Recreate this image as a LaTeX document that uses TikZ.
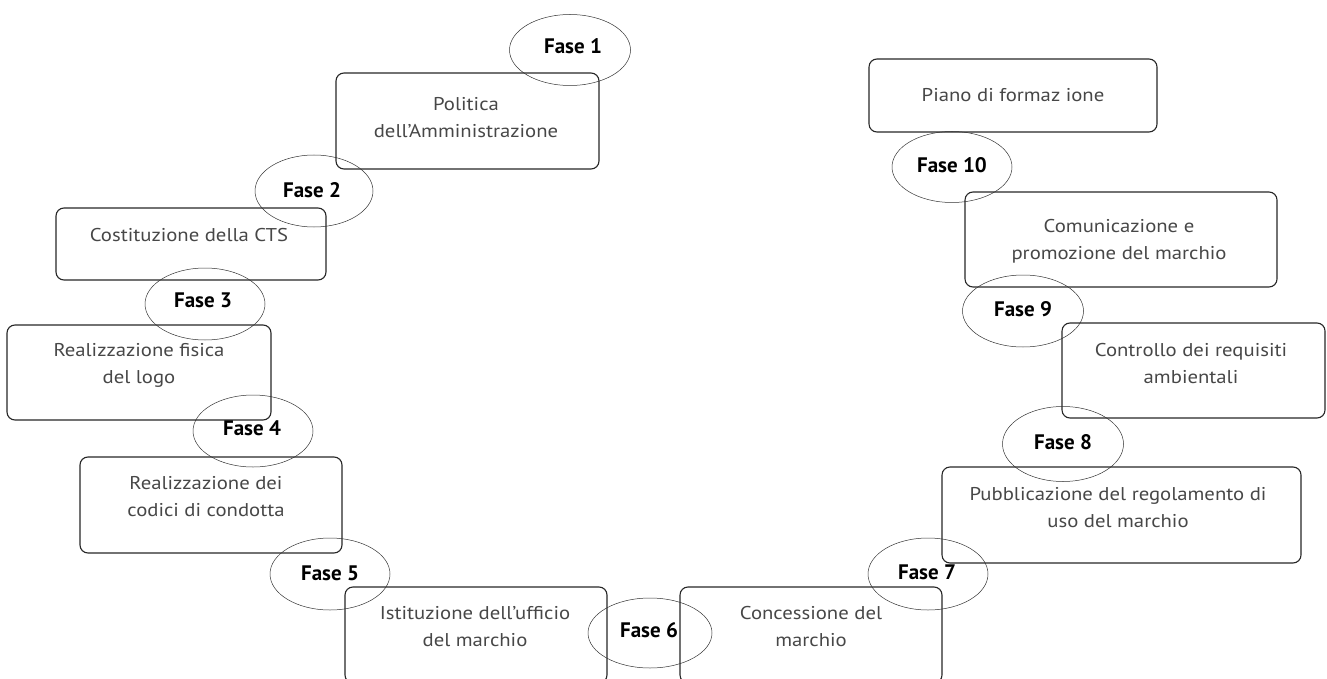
\documentclass[tikz,border=0pt]{standalone}
\usepackage{fontspec}
\setmainfont{PT Sans}
\newfontfamily\boxfont[FakeStretch=1.12]{PT Sans}
\usetikzlibrary{shapes.geometric}
\tikzset{
  stepbox/.style={draw=black!85, line width=1.1pt, rounded corners=8pt, inner sep=0pt},
  btext/.style={text=black!72, align=center, inner sep=0pt, font=\boxfont\fontsize{18.5}{27}\selectfont},
  phase/.style={draw=black!80, line width=0.5pt, ellipse, inner sep=0pt, minimum width=121pt, minimum height=71pt},
  ptext/.style={text=black, inner sep=0pt, font=\fontsize{21}{24}\selectfont\bfseries}
}
\begin{document}
\begin{tikzpicture}[x=1pt,y=-1pt]
\useasboundingbox (0,0) rectangle (1327,679);
% boxes
\node[stepbox, minimum width=263pt, minimum height=96pt] (b1) at (467.5,121) {};
\node[stepbox, minimum width=270pt, minimum height=72pt] (b2) at (191,244) {};
\node[stepbox, minimum width=264pt, minimum height=95pt] (b3) at (139,372.5) {};
\node[stepbox, minimum width=262pt, minimum height=96pt] (b4) at (211,505) {};
\node[stepbox, minimum width=262pt, minimum height=96pt] (b5) at (476,635) {};
\node[stepbox, minimum width=262pt, minimum height=96pt] (b6) at (811,635) {};
\node[stepbox, minimum width=359pt, minimum height=96pt] (b7) at (1121.5,515) {};
\node[stepbox, minimum width=263pt, minimum height=95pt] (b8) at (1193.5,370.5) {};
\node[stepbox, minimum width=312pt, minimum height=95pt] (b9) at (1121,239.5) {};
\node[stepbox, minimum width=288pt, minimum height=73pt] (b10) at (1013,95.5) {};
% box texts
\node[btext] (t1) at (466,118) {Politica\\dell’Amministrazione};
\node[btext] (t2) at (189,235) {Costituzione della CTS};
\node[btext] (t3) at (139,365) {Realizzazione fisica\\del logo};
\node[btext] (t4) at (206,497) {Realizzazione dei\\codici di condotta};
\node[btext] (t5) at (475,627) {Istituzione dell’ufficio\\del marchio};
\node[btext] (t6) at (811,627) {Concessione del\\marchio};
\node[btext] (t7) at (1118,508) {Pubblicazione del regolamento di\\uso del marchio};
\node[btext] (t8) at (1191,364) {Controllo dei requisiti\\ambientali};
\node[btext] (t9) at (1119,241) {Comunicazione e\\promozione del marchio};
\node[btext] (t10) at (1013,95) {Piano di formaz ione};
% phase ellipses
\node[phase] (f1) at (570,50) {};
\node[phase, minimum width=118pt, minimum height=72pt] (f2) at (314,191) {};
\node[phase, minimum width=120pt, minimum height=72pt] (f3) at (205,304) {};
\node[phase, minimum width=120pt, minimum height=72pt] (f4) at (253,431) {};
\node[phase, minimum width=120pt, minimum height=72pt] (f5) at (330,574) {};
\node[phase, minimum width=124pt, minimum height=70pt] (f6) at (650,633) {};
\node[phase, minimum width=120pt, minimum height=72pt] (f7) at (928,574) {};
\node[phase, minimum width=121pt, minimum height=75pt] (f8) at (1063,444) {};
\node[phase, minimum width=121pt, minimum height=72pt] (f9) at (1023,311) {};
\node[phase, minimum width=120pt, minimum height=71pt] (f10) at (952,167) {};
% phase texts
\node[ptext] (p1) at (573,46) {Fase 1};
\node[ptext] (p2) at (312,190) {Fase 2};
\node[ptext] (p3) at (203,300) {Fase 3};
\node[ptext] (p4) at (252,428) {Fase 4};
\node[ptext] (p5) at (330,573) {Fase 5};
\node[ptext] (p6) at (649,630) {Fase 6};
\node[ptext] (p7) at (927,572) {Fase 7};
\node[ptext] (p8) at (1063,442) {Fase 8};
\node[ptext] (p9) at (1023,309) {Fase 9};
\node[ptext] (p10) at (952,165) {Fase 10};
\end{tikzpicture}
\end{document}
